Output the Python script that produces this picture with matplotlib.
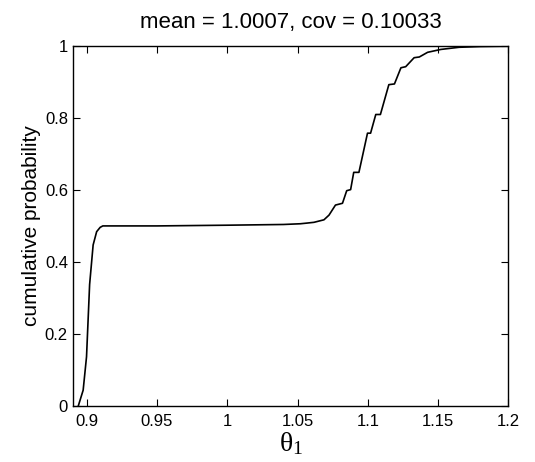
import numpy as np
import matplotlib.pyplot as plt
from matplotlib.ticker import FuncFormatter

theta = [0.894, 0.8974, 0.8998, 0.902, 0.9045, 0.907, 0.9095, 0.9114,
         0.95, 1.0, 1.04, 1.052, 1.057, 1.0617, 1.0688, 1.0724, 1.077,
         1.082, 1.085, 1.0878, 1.090, 1.0937, 1.0998, 1.102, 1.1057,
         1.109, 1.115, 1.119, 1.1236, 1.127, 1.133, 1.1367, 1.1426,
         1.152, 1.165, 1.18, 1.2]
prob = [0.0, 0.043, 0.136, 0.337, 0.447, 0.484, 0.496, 0.50,
        0.50, 0.502, 0.504, 0.506, 0.508, 0.51, 0.517, 0.530, 0.558,
        0.563, 0.598, 0.601, 0.649, 0.649, 0.758, 0.758, 0.81,
        0.81, 0.893, 0.895, 0.94, 0.943, 0.968, 0.97, 0.983,
        0.991, 0.997, 0.999, 1.0]

xticks = [0.9, 0.95, 1.0, 1.05, 1.1, 1.15, 1.2]
yticks = [0, 0.2, 0.4, 0.6, 0.8, 1.0]

plt.rcParams['font.family'] = ['Liberation Sans', 'DejaVu Sans']
plt.rcParams['mathtext.fontset'] = 'custom'
plt.rcParams['mathtext.rm'] = 'Liberation Serif'
plt.rcParams['mathtext.it'] = 'Liberation Serif'

fig = plt.figure(figsize=(5.35, 4.62), dpi=100)
ax = fig.add_axes([0.136, 0.122, 0.814, 0.778])

ax.plot(theta, prob, color='black', lw=1.2)

ax.set_xlim(0.89, 1.2)
ax.set_ylim(0, 1)
ax.set_xticks(xticks)
ax.set_yticks(yticks)
fmt = FuncFormatter(lambda v, pos: '%g' % v)
ax.xaxis.set_major_formatter(fmt)
ax.yaxis.set_major_formatter(fmt)
ax.tick_params(direction='in', top=True, right=True, length=5,
               labelsize=12, width=0.8)
ax.tick_params(axis='x', pad=6)
for s in ax.spines.values():
    s.set_linewidth(1.0)

ax.set_title('mean = 1.0007, cov = 0.10033', fontsize=16, pad=13)
ax.set_ylabel('cumulative probability', fontsize=15, labelpad=3)
ax.set_xlabel(r'$\theta_1$', fontsize=20, labelpad=1)

fig.savefig('out.png', dpi=100)
